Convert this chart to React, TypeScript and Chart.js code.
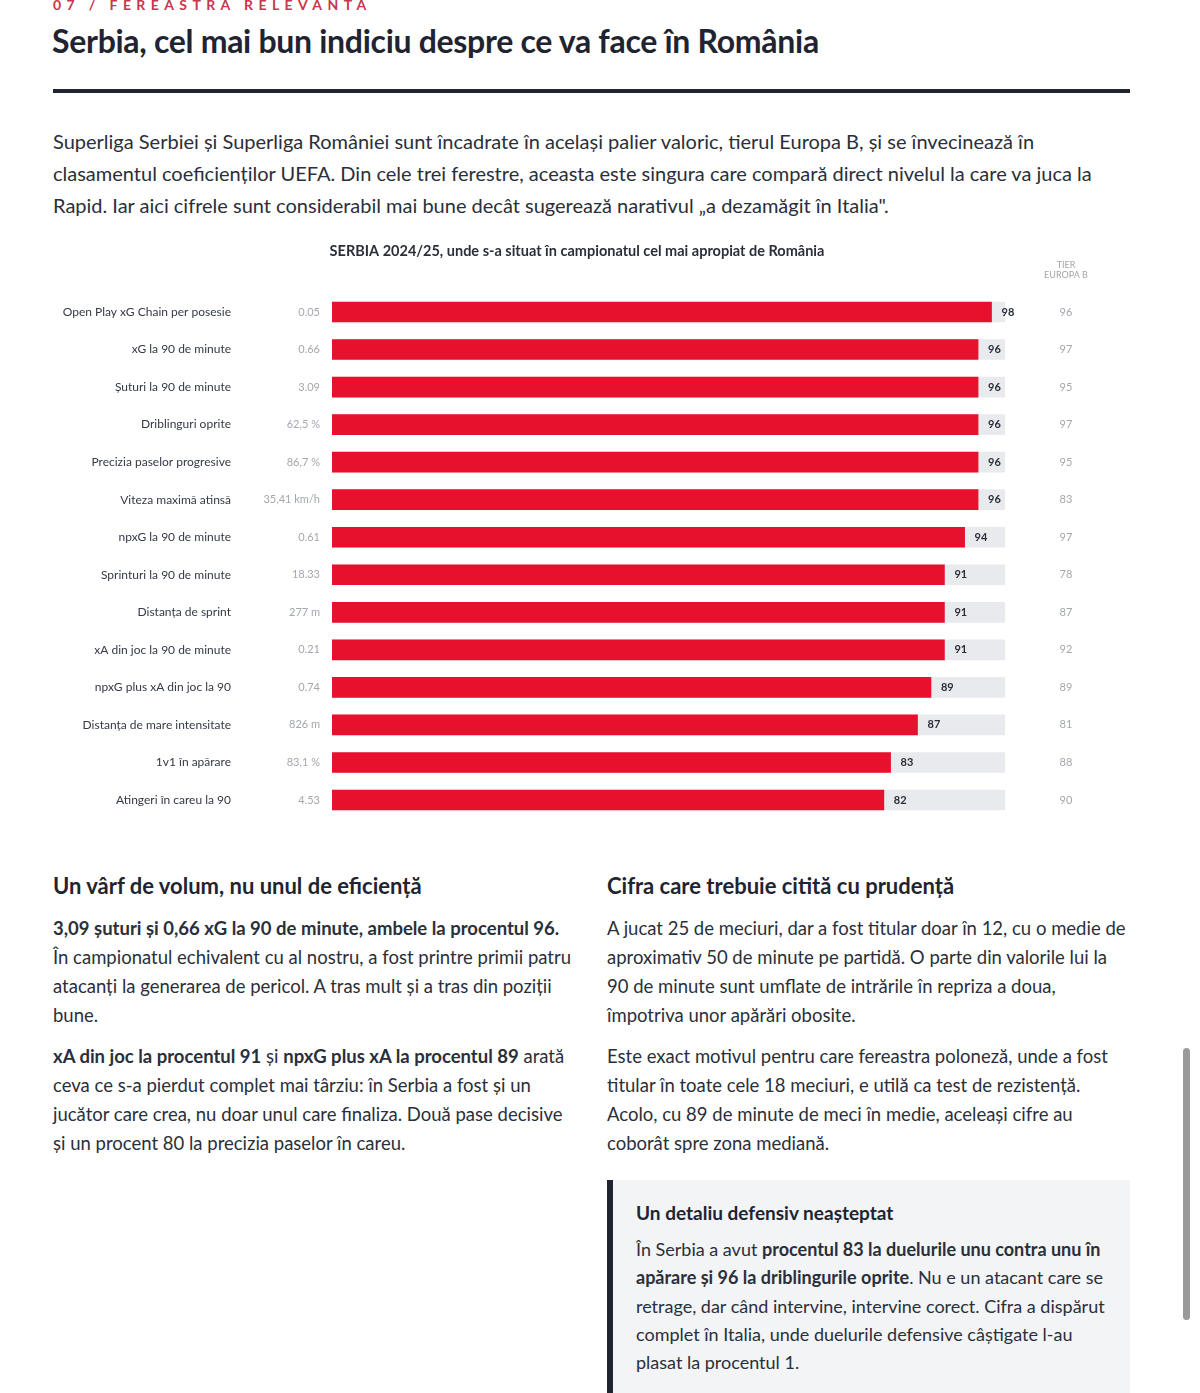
import React, { useEffect, useRef } from "react";
import { Chart, registerables } from "chart.js";

Chart.register(...registerables);

const categories = [
  "Open Play xG Chain per posesie",
  "xG la 90 de minute",
  "Șuturi la 90 de minute",
  "Driblinguri oprite",
  "Precizia paselor progresive",
  "Viteza maximă atinsă",
  "npxG la 90 de minute",
  "Sprinturi la 90 de minute",
  "Distanța de sprint",
  "xA din joc la 90 de minute",
  "npxG plus xA din joc la 90",
  "Distanța de mare intensitate",
  "1v1 în apărare",
  "Atingeri în careu la 90",
];
const rawValues = ["0.05", "0.66", "3.09", "62,5 %", "86,7 %", "35,41 km/h", "0.61", "18.33", "277 m", "0.21", "0.74", "826 m", "83,1 %", "4.53"];
const percentiles = [98, 96, 96, 96, 96, 96, 94, 91, 91, 91, 89, 87, 83, 82];
const tierValues = [96, 97, 95, 97, 95, 83, 97, 78, 87, 92, 89, 81, 88, 90];
const maxValues = categories.map(() => 100);

const chartTitle = "SERBIA 2024/25, unde s-a situat în campionatul cel mai apropiat de România";

const FONT = "Lato, 'Noto Sans', sans-serif";
const CANVAS_TOP = 236;
const CANVAS_LEFT = 53;

function BarChart() {
  const ref = useRef<HTMLCanvasElement>(null);
  useEffect(() => {
    if (!ref.current) return;
    const labelsPlugin = {
      id: "labelsPlugin",
      afterDatasetsDraw(chart: any) {
        const ctx = chart.ctx;
        const xs = chart.scales.x;
        const ys = chart.scales.y;
        ctx.save();
        ctx.textBaseline = "middle";
        // title
        ctx.font = `bold 14.5px ${FONT}`;
        ctx.fillStyle = "#2a2f3a";
        ctx.textAlign = "center";
        ctx.fillText(chartTitle, 577 - CANVAS_LEFT, 251 - CANVAS_TOP);
        // tier header
        ctx.font = `9px ${FONT}`;
        ctx.fillStyle = "#a0a4ab";
        ctx.fillText("TIER", 1066 - CANVAS_LEFT, 265 - CANVAS_TOP);
        ctx.fillText("EUROPA B", 1066 - CANVAS_LEFT, 275 - CANVAS_TOP);
        categories.forEach((c, i) => {
          const y = ys.getPixelForValue(i);
          ctx.textAlign = "right";
          ctx.font = `12px ${FONT}`;
          ctx.fillStyle = "#343946";
          ctx.fillText(c, 231 - CANVAS_LEFT, y);
          ctx.font = `11px ${FONT}`;
          ctx.fillStyle = "#a3a7ae";
          ctx.fillText(rawValues[i], 320 - CANVAS_LEFT, y);
          ctx.textAlign = "left";
          ctx.font = `bold 11px ${FONT}`;
          ctx.fillStyle = "#2a2f3a";
          ctx.fillText(String(percentiles[i]), xs.getPixelForValue(percentiles[i]) + 10, y);
          ctx.textAlign = "center";
          ctx.font = `11px ${FONT}`;
          ctx.fillStyle = "#a3a7ae";
          ctx.fillText(String(tierValues[i]), 1066 - CANVAS_LEFT, y);
        });
        ctx.restore();
      },
    };
    const chart = new Chart(ref.current, {
      type: "bar",
      data: {
        labels: categories,
        datasets: [
          {
            label: "Percentila",
            data: percentiles,
            backgroundColor: "#E8112D",
            barThickness: 20,
            grouped: false,
            order: 0,
          } as any,
          {
            label: "Max",
            data: maxValues,
            backgroundColor: "#E9EAEE",
            barThickness: 20,
            grouped: false,
            order: 1,
          } as any,
        ],
      },
      options: {
        indexAxis: "y",
        responsive: false,
        animation: false,
        devicePixelRatio: 1,
        layout: { padding: { left: 332 - CANVAS_LEFT, right: 1130 - 1005, top: 57.2, bottom: 17.2 } },
        plugins: { legend: { display: false }, tooltip: { enabled: false }, title: { display: false } },
        scales: {
          x: { display: false, min: 0, max: 100 },
          y: { display: false },
        },
      },
      plugins: [labelsPlugin],
    });
    return () => chart.destroy();
  }, []);
  return (
    <canvas
      ref={ref}
      width={1077}
      height={600}
      style={{ position: "absolute", left: CANVAS_LEFT, top: CANVAS_TOP, width: 1077, height: 600 }}
    />
  );
}

const abs = (left: number, top: number, extra: React.CSSProperties = {}): React.CSSProperties => ({
  position: "absolute",
  left,
  top,
  whiteSpace: "nowrap",
  margin: 0,
  ...extra,
});

export default function App() {
  const body: React.CSSProperties = { fontFamily: FONT, color: "#2a2f3a" };
  return (
    <div style={{ position: "absolute", left: 0, top: 0, width: 1200, height: 1393, overflow: "hidden", background: "#fff", ...body }}>
      <div style={abs(53, -4, { fontSize: 14, fontWeight: 700, letterSpacing: 5.4, color: "#C9364F" })}>07 / FEREASTRA RELEVANTA</div>
      <div style={abs(52, 21, { fontSize: 32, fontWeight: 700, color: "#1f2430", letterSpacing: -0.3 })}>
        Serbia, cel mai bun indiciu despre ce va face în România
      </div>
      <div style={{ position: "absolute", left: 53, top: 89, width: 1077, height: 4, background: "#1f2430" }} />
      <div style={abs(53, 125, { fontSize: 20, lineHeight: "32px", color: "#2a2f3a" })}>
        Superliga Serbiei și Superliga României sunt încadrate în același palier valoric, tierul Europa B, și se învecinează în
        <br />
        clasamentul coeficienților UEFA. Din cele trei ferestre, aceasta este singura care compară direct nivelul la care va juca la
        <br />
        Rapid. Iar aici cifrele sunt considerabil mai bune decât sugerează narativul „a dezamăgit în Italia".
      </div>

      <BarChart />

      <div style={abs(53, 872, { fontSize: 22, fontWeight: 700, color: "#1f2430" })}>Un vârf de volum, nu unul de eficiență</div>
      <div style={abs(53, 914, { fontSize: 18.5, lineHeight: "29px" })}>
        <b>3,09 șuturi și 0,66 xG la 90 de minute, ambele la procentul 96.</b>
        <br />
        În campionatul echivalent cu al nostru, a fost printre primii patru
        <br />
        atacanți la generarea de pericol. A tras mult și a tras din poziții
        <br />
        bune.
      </div>
      <div style={abs(53, 1042, { fontSize: 18.5, lineHeight: "29px" })}>
        <b>xA din joc la procentul 91</b> și <b>npxG plus xA la procentul 89</b> arată
        <br />
        ceva ce s-a pierdut complet mai târziu: în Serbia a fost și un
        <br />
        jucător care crea, nu doar unul care finaliza. Două pase decisive
        <br />
        și un procent 80 la precizia paselor în careu.
      </div>

      <div style={abs(607, 872, { fontSize: 22, fontWeight: 700, color: "#1f2430" })}>Cifra care trebuie citită cu prudență</div>
      <div style={abs(607, 914, { fontSize: 18.5, lineHeight: "29px" })}>
        A jucat 25 de meciuri, dar a fost titular doar în 12, cu o medie de
        <br />
        aproximativ 50 de minute pe partidă. O parte din valorile lui la
        <br />
        90 de minute sunt umflate de intrările în repriza a doua,
        <br />
        împotriva unor apărări obosite.
      </div>
      <div style={abs(607, 1042, { fontSize: 18.5, lineHeight: "29px" })}>
        Este exact motivul pentru care fereastra poloneză, unde a fost
        <br />
        titular în toate cele 18 meciuri, e utilă ca test de rezistență.
        <br />
        Acolo, cu 89 de minute de meci în medie, aceleași cifre au
        <br />
        coborât spre zona mediană.
      </div>

      <div style={{ position: "absolute", left: 607, top: 1180, width: 523, height: 240, background: "#F3F4F6", borderLeft: "6px solid #1f2430", boxSizing: "border-box" }} />
      <div style={abs(636, 1201, { fontSize: 19, fontWeight: 700, color: "#1f2430" })}>Un detaliu defensiv neașteptat</div>
      <div style={abs(636, 1235, { fontSize: 18, lineHeight: "28.3px" })}>
        În Serbia a avut <b>procentul 83 la duelurile unu contra unu în</b>
        <br />
        <b>apărare și 96 la driblingurile oprite</b>. Nu e un atacant care se
        <br />
        retrage, dar când intervine, intervine corect. Cifra a dispărut
        <br />
        complet în Italia, unde duelurile defensive câștigate l-au
        <br />
        plasat la procentul 1.
      </div>

      <div style={{ position: "absolute", left: 1183, top: 1048, width: 7, height: 272, borderRadius: 4, background: "#9a9a9a" }} />
    </div>
  );
}
